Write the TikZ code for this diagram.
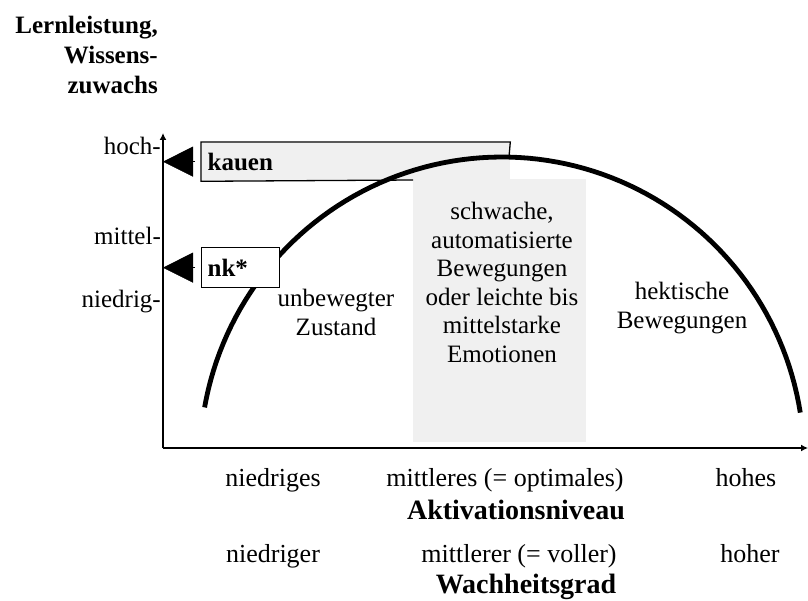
\documentclass[tikz,border=0pt]{standalone}
\usepackage{fontspec}
\setmainfont{Liberation Serif}
\usepackage{tikz}
\usetikzlibrary{positioning}
\usetikzlibrary{arrows.meta}
\definecolor{panelgray}{HTML}{F0F0F0}

\begin{document}
\begin{tikzpicture}[x=1pt, y=-1pt,
	every node/.style={font=\fontsize{25}{28.5}\selectfont, inner sep=0pt},
	axis/.style={line width=2pt, -{Latex[length=7pt, width=7pt]}},
	level/.style={anchor=base east},
	tag box/.style={draw=#1, line width=1.3pt, anchor=north west, align=left,
		inner xsep=6pt, font=\fontsize{25}{28.5}\selectfont\bfseries},
	tag box/.default=black,
	pointer/.style={-{Triangle[length=30pt, width=30pt]}, shorten <=6pt},
	hump/.style={line width=4.8pt},
	caption/.style={anchor=north, align=center},
	scale lab/.style={anchor=base, font=\fontsize{26}{28.5}\selectfont},
	axis title/.style={anchor=base, font=\fontsize{28}{28.5}\selectfont\bfseries}]

	\useasboundingbox (0,0) rectangle (808,601);

	\coordinate (origin) at (163,448);
	\coordinate (ytop) at (163,133);
	\coordinate (xend) at (808,448);
	\coordinate (humpmeet) at (509,157);

	% boxes and grey panel
	\node [tag box=none, fill=panelgray, text width=296pt, minimum height=38pt] (kauen) at (201,142) {kauen};
	\fill [panelgray] (413,179) rectangle (586,442);
	\draw [line width=1.3pt] (413,180) -- (kauen.south west) -- (kauen.north west)
		-- (kauen.north east) -- (humpmeet);

	% the curve
	\draw [hump] plot[domain=170:9, samples=90] ({502+302*cos(\x)},{460-303*sin(\x)});

	% axes
	\draw [axis] (origin) -- (ytop);
	\draw [axis] (origin) -- (xend);

	\node [tag box, fill=white, text width=66pt, minimum height=40pt] (nk) at (201,247) {nk*};

	\draw [pointer] (kauen.west) -- (kauen.west -| origin);
	\draw [pointer] (nk.west) -- (nk.west -| origin);

	% labels
	\node [anchor=north east, align=right, font=\fontsize{25}{30}\selectfont\bfseries] (ylab) at (158,16)
		{Lernleistung,\\Wissens-\\zuwachs};
	\node [level] (hoch) at (161,155) {hoch-};
	\node [level] (mittel) at (161,245) {mittel-};
	\node [level] (niedrig) at (161,308) {niedrig-};

	\node [caption] (ruhe) at (336,289) {unbewegter\\Zustand};
	\node [caption] (optimal) at (502,202) {schwache,\\automatisierte\\Bewegungen\\oder leichte bis\\mittelstarke\\Emotionen};
	\node [caption] (hektik) at (682,282) {hektische\\Bewegungen};

	\node [scale lab] (aktlow) at (273,486) {niedriges};
	\node [scale lab] (aktmid) at (505,486) {mittleres (= optimales)};
	\node [scale lab] (akthigh) at (746,486) {hohes};
	\node [axis title] (akt) at (516,519) {Aktivationsniveau};
	\node [scale lab] (wachlow) at (273,562) {niedriger};
	\node [scale lab] (wachmid) at (519,562) {mittlerer (= voller)};
	\node [scale lab] (wachhigh) at (750,562) {hoher};
	\node [axis title] (wach) at (526,593) {Wachheitsgrad};
\end{tikzpicture}
\end{document}
